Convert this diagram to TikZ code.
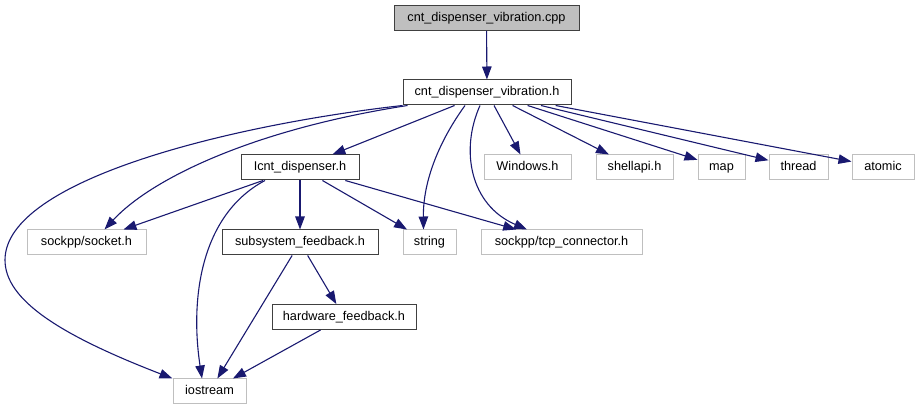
\documentclass[tikz,border=0pt]{standalone}
\usepackage{fontspec}
\setmainfont{Liberation Sans}
\usetikzlibrary{arrows.meta}
\definecolor{edgeblue}{HTML}{191970}
\definecolor{extgray}{HTML}{BFBFBF}

\begin{document}
\begin{tikzpicture}[
    x=1pt, y=-1pt,
    font=\fontsize{12.7}{14}\selectfont,
    file/.style={draw=black!75, line width=1pt, inner sep=0pt, minimum height=25pt, text height=9.2pt, text depth=2.6pt},
    extfile/.style={file, draw=extgray},
    srcfile/.style={file, fill=extgray},
    edge/.style={-{Triangle[length=13pt,width=9.5pt]}, edgeblue, line width=1.1pt}
]
\useasboundingbox (0,0) rectangle (919,411);

% Source and its header
\node[srcfile, minimum width=185pt] (cpp) at (486.5,18) {cnt\_dispenser\_vibration.cpp};
\node[file, minimum width=168pt] (vibh) at (487,92.5) {cnt\_dispenser\_vibration.h};

% Second row
\node[file, minimum width=118pt] (icnt) at (300,167.5) {Icnt\_dispenser.h};
\node[extfile, minimum width=87pt] (windows) at (527.5,167.5) {Windows.h};
\node[extfile, minimum width=77pt] (shellapi) at (634.5,167.5) {shellapi.h};
\node[extfile, minimum width=47pt] (map) at (721.5,167.5) {map};
\node[extfile, minimum width=59pt] (thread) at (798.5,167.5) {thread};
\node[extfile, minimum width=62pt] (atomic) at (883,167.5) {atomic};

% Third row
\node[extfile, minimum width=119pt] (socket) at (86.5,242.5) {sockpp/socket.h};
\node[file, minimum width=156pt] (subsys) at (300,242.5) {subsystem\_feedback.h};
\node[extfile, minimum width=53pt] (string) at (429.5,242.5) {string};
\node[extfile, minimum width=161pt] (tcp) at (561.5,242.5) {sockpp/tcp\_connector.h};

% Bottom rows
\node[file, minimum width=144pt] (hardware) at (344,317) {hardware\_feedback.h};
\node[extfile, minimum width=73pt] (iostream) at (209.5,391.5) {iostream};

\draw[edge] (cpp) -- (vibh);

\draw[edge] (vibh.south west) .. controls (230,125) and (5,180) .. (5,260)
    .. controls (5,300) and (60,335) .. (iostream.north west);
\draw[edge] ([xshift=5pt]vibh.south west) .. controls (250,130) and (150,180) .. ([xshift=18pt]socket.north);
\draw[edge] (vibh) -- (icnt);
\draw[edge] ([xshift=-22pt]vibh.south) .. controls (440,140) and (423,180) .. ([xshift=-6pt]string.north);
\draw[edge] ([xshift=-7pt]vibh.south) .. controls (460,150) and (470,205) .. ([xshift=-34.5pt]tcp.north);
\draw[edge] (vibh) -- (windows);
\draw[edge] (vibh) -- (shellapi);
\draw[edge] (vibh) -- (map);
\draw[edge] (vibh) -- (thread);
\draw[edge] (vibh) -- (atomic);

\draw[edge] (icnt) -- (socket);
\draw[edge] (icnt) -- (subsys);
\draw[edge] (icnt) -- (string);
\draw[edge] (icnt) -- (tcp);
\draw[edge] ([xshift=-35pt]icnt.south) .. controls (200,215) and (190,300) .. ([xshift=-7.5pt]iostream.north);

\draw[edge] (subsys) -- (hardware);
\draw[edge] (subsys) -- (iostream);
\draw[edge] (hardware) -- (iostream);

\end{tikzpicture}
\end{document}
